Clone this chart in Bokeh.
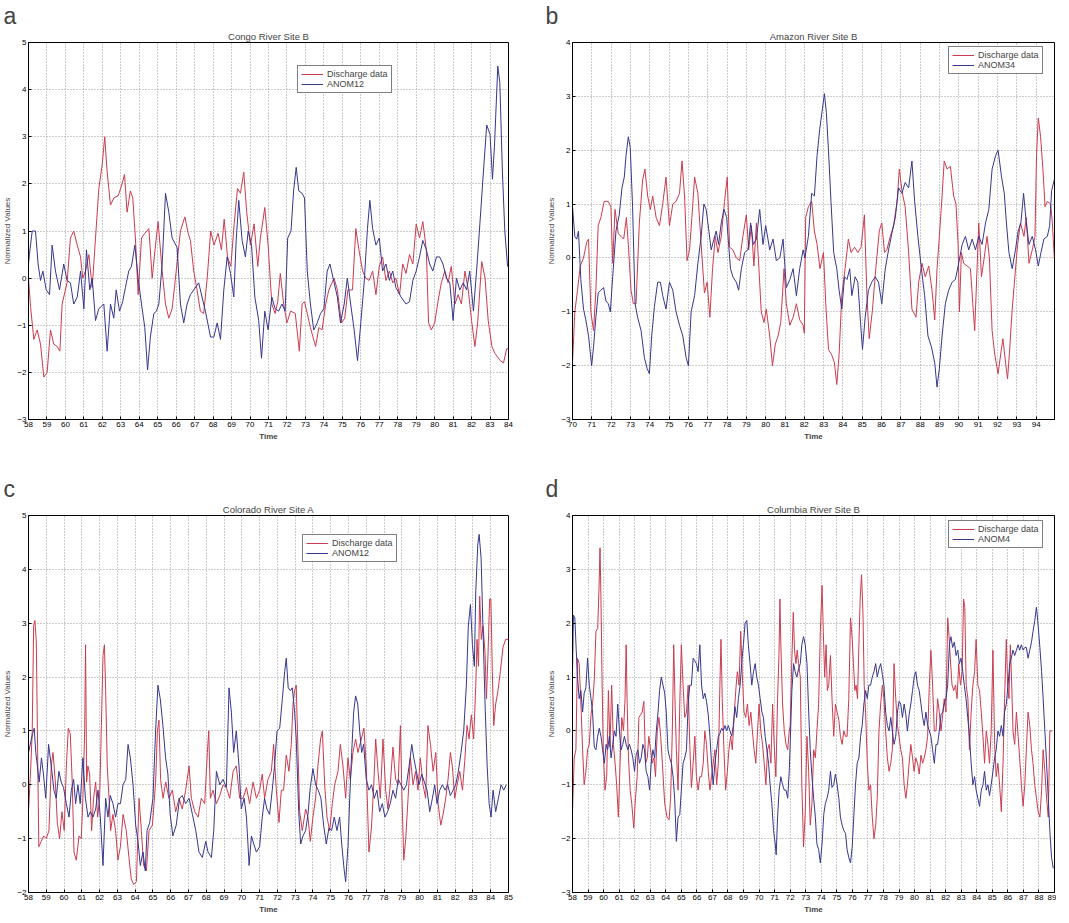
from bokeh.plotting import figure
from bokeh.layouts import column, row
from bokeh.models import FixedTicker, Legend, LegendItem, Range1d, Title
from bokeh.embed import file_html
from bokeh.resources import INLINE

# ---------------- data (year, normalized value) ----------------
congo_discharge = [(58.0,0.0),(58.11,-0.6),(58.29,-1.3),(58.47,-1.1),(58.65,-1.4),(58.83,-2.1),(59.01,-2.0),(59.19,-1.1),(59.37,-1.4),(59.55,-1.45),(59.70,-1.55),(59.82,-0.55),(60.09,-0.1),(60.27,0.85),(60.45,1.0),(60.64,0.7),(60.82,0.45),(60.94,0.0),(61.09,0.15),(61.27,0.5),(61.45,-0.2),(61.63,0.85),(61.81,1.9),(61.99,2.4),(62.13,3.0),(62.26,2.25),(62.44,1.55),(62.62,1.7),(62.86,1.75),(63.07,2.0),(63.20,2.2),(63.34,1.4),(63.52,1.85),(63.65,1.7),(63.79,0.85),(63.94,-0.35),(64.12,0.85),(64.30,0.95),(64.52,1.05),(64.70,0.0),(64.88,0.7),(65.02,1.2),(65.24,0.15),(65.42,-0.55),(65.60,-0.85),(65.78,-0.65),(66.00,0.15),(66.23,1.0),(66.47,1.3),(66.65,0.95),(66.77,0.8),(66.95,0.15),(67.13,-0.25),(67.31,-0.7),(67.49,-0.75),(67.68,0.0),(67.87,1.0),(68.05,0.7),(68.27,0.95),(68.45,0.6),(68.60,1.25),(68.78,0.45),(68.96,0.25),(69.14,1.15),(69.32,1.9),(69.48,1.8),(69.66,2.25),(69.82,1.4),(70.02,0.7),(70.22,1.15),(70.42,0.25),(70.56,0.85),(70.80,1.5),(70.98,0.7),(71.18,-0.55),(71.36,-0.75),(71.5,-0.5),(71.64,0.1),(71.82,-0.55),(72.0,-0.95),(72.2,-0.7),(72.45,-0.75),(72.67,-1.55),(72.82,-0.55),(72.95,-0.5),(73.1,-0.75),(73.27,-1.05),(73.55,-1.45),(73.73,-1.05),(73.9,-1.1),(74.1,-0.55),(74.27,-0.25),(74.55,0.0),(74.73,-0.25),(74.95,-0.95),(75.13,-0.85),(75.3,-0.25),(75.55,-0.25),(75.73,1.05),(75.9,0.6),(76.1,0.15),(76.27,0.0),(76.45,-0.05),(76.64,0.15),(76.82,-0.35),(77.0,0.25),(77.18,0.45),(77.36,-0.05),(77.55,0.15),(77.73,-0.1),(77.9,0.0),(78.1,-0.35),(78.27,0.3),(78.45,0.1),(78.64,0.5),(78.82,0.3),(79.0,1.15),(79.18,0.85),(79.36,1.2),(79.55,0.6),(79.67,-0.95),(79.82,-1.1),(80.0,-0.95),(80.18,-0.5),(80.36,-0.1),(80.55,0.15),(80.73,-0.1),(80.9,0.25),(81.1,-0.55),(81.27,-0.35),(81.45,-0.55),(81.64,0.15),(81.82,-0.25),(82.0,-0.9),(82.18,-1.45),(82.33,-0.95),(82.55,0.35),(82.73,0.0),(82.9,-0.9),(83.1,-1.45),(83.27,-1.6),(83.55,-1.75),(83.73,-1.8),(83.9,-1.5),(84.0,-1.5)]
congo_anom12 = [(58.0,0.3),(58.05,0.5),(58.2,1.0),(58.38,1.0),(58.52,0.3),(58.65,-0.05),(58.78,0.15),(58.96,-0.25),(59.14,-0.35),(59.28,0.7),(59.46,0.15),(59.68,-0.25),(59.91,0.3),(60.09,-0.05),(60.27,-0.1),(60.45,-0.55),(60.64,-0.4),(60.82,0.15),(61.0,-0.65),(61.14,0.6),(61.32,-0.25),(61.45,0.0),(61.63,-0.9),(61.81,-0.65),(62.08,-0.55),(62.26,-1.55),(62.44,-0.55),(62.62,-0.85),(62.75,-0.25),(62.93,-0.7),(63.1,-0.5),(63.25,-0.2),(63.43,0.15),(63.58,0.25),(63.76,0.7),(63.94,0.0),(64.12,-0.55),(64.3,-1.05),(64.45,-1.95),(64.6,-1.25),(64.79,-0.75),(64.93,-0.7),(65.06,-0.55),(65.24,0.3),(65.42,1.8),(65.6,1.4),(65.78,0.85),(66.05,0.65),(66.23,-0.55),(66.41,-0.95),(66.59,-0.55),(66.77,-0.35),(66.95,-0.25),(67.22,-0.1),(67.4,-0.4),(67.58,-0.7),(67.86,-1.25),(68.04,-1.25),(68.22,-0.95),(68.4,-1.3),(68.58,-0.25),(68.76,0.45),(68.94,0.1),(69.12,-0.4),(69.25,0.8),(69.39,1.65),(69.57,0.8),(69.75,0.45),(69.9,1.0),(70.08,0.7),(70.26,-0.4),(70.47,-0.9),(70.62,-1.7),(70.8,-0.7),(70.98,-1.1),(71.18,-0.4),(71.36,-0.65),(71.55,-0.7),(71.73,-0.55),(71.9,-0.7),(72.04,0.85),(72.22,1.0),(72.36,1.85),(72.5,2.35),(72.64,1.85),(72.82,1.8),(72.95,1.7),(73.1,0.15),(73.27,-0.55),(73.45,-1.1),(73.64,-0.95),(73.82,-0.75),(74.0,-0.65),(74.18,0.15),(74.33,0.3),(74.5,0.0),(74.73,-0.4),(74.9,-0.95),(75.1,-0.55),(75.27,0.0),(75.45,-0.55),(75.64,-1.1),(75.82,-1.75),(76.0,-0.95),(76.18,-0.1),(76.36,1.05),(76.49,1.65),(76.64,1.05),(76.82,0.7),(77.0,0.85),(77.18,0.15),(77.36,0.3),(77.55,-0.05),(77.73,0.15),(77.9,-0.2),(78.18,-0.4),(78.45,-0.55),(78.64,-0.5),(78.82,-0.05),(79.0,0.15),(79.18,0.45),(79.36,0.8),(79.55,0.6),(79.73,0.3),(79.9,0.15),(80.1,0.45),(80.27,0.45),(80.45,0.3),(80.64,0.0),(80.82,-0.1),(81.0,-0.9),(81.18,0.0),(81.36,-0.25),(81.55,-0.1),(81.73,-0.25),(81.9,0.15),(82.1,-0.7),(82.27,0.15),(82.45,1.15),(82.64,2.25),(82.82,3.25),(83.0,3.05),(83.13,2.1),(83.24,2.8),(83.42,4.5),(83.53,4.15),(83.67,2.25),(83.8,1.0),(83.95,0.25),(84.0,0.25)]

amazon_discharge = [(70.0,-1.95),(70.12,-1.0),(70.26,-0.6),(70.4,-0.15),(70.57,0.0),(70.74,0.3),(70.83,0.35),(70.95,-1.0),(71.09,-1.35),(71.21,-0.6),(71.33,0.6),(71.47,0.75),(71.64,1.05),(71.85,1.05),(71.99,0.95),(72.08,-0.1),(72.2,0.9),(72.37,0.45),(72.51,0.4),(72.65,0.35),(72.79,0.75),(72.89,0.25),(73.03,-0.6),(73.15,-0.85),(73.29,-0.85),(73.46,0.65),(73.63,1.45),(73.75,1.65),(73.89,1.15),(74.03,0.9),(74.15,1.15),(74.33,0.75),(74.5,0.6),(74.67,1.0),(74.84,1.5),(75.02,0.6),(75.19,1.0),(75.36,1.05),(75.54,1.2),(75.67,1.8),(75.8,1.15),(75.93,-0.05),(76.06,0.15),(76.18,0.75),(76.32,1.5),(76.49,1.2),(76.66,0.25),(76.83,-0.65),(76.97,-0.45),(77.11,-1.1),(77.25,-0.2),(77.39,0.4),(77.53,0.1),(77.7,0.4),(77.87,1.05),(78.01,1.5),(78.13,0.2),(78.3,0.15),(78.48,0.0),(78.65,-0.05),(78.82,0.4),(79.0,0.8),(79.12,0.15),(79.26,0.6),(79.39,-0.15),(79.52,0.65),(79.65,-0.2),(79.77,-1.0),(79.91,-1.2),(80.03,-0.95),(80.21,-1.45),(80.35,-2.0),(80.5,-1.6),(80.64,-1.45),(80.78,-1.2),(80.95,-0.2),(81.07,-0.85),(81.25,-1.25),(81.42,-1.1),(81.59,-0.85),(81.76,-1.15),(81.94,-1.25),(82.0,-1.4),(82.07,0.75),(82.21,0.95),(82.38,1.05),(82.52,0.5),(82.66,0.25),(82.81,-0.2),(82.99,0.1),(83.11,-0.85),(83.25,-1.7),(83.42,-1.8),(83.56,-1.95),(83.68,-2.35),(83.8,-1.8),(83.94,-0.7),(84.11,-0.2),(84.28,0.35),(84.42,0.1),(84.6,0.2),(84.77,0.1),(84.94,0.2),(85.11,0.8),(85.24,-0.7),(85.36,-1.5),(85.53,-0.95),(85.7,-0.2),(85.88,0.5),(86.01,0.65),(86.15,0.1),(86.27,0.15),(86.45,0.4),(86.62,0.6),(86.8,1.05),(86.92,1.65),(87.05,1.25),(87.22,0.95),(87.4,0.1),(87.57,-0.95),(87.78,-1.1),(87.92,-0.45),(88.09,-0.1),(88.26,-0.35),(88.44,-0.15),(88.61,-0.6),(88.75,-1.15),(88.87,-0.2),(88.99,0.4),(89.13,1.15),(89.24,1.8),(89.39,1.65),(89.56,1.7),(89.73,1.15),(89.85,1.0),(89.96,0.25),(90.03,-1.0),(90.13,0.1),(90.25,-0.1),(90.43,-0.15),(90.6,-0.2),(90.72,-0.85),(90.82,-1.35),(90.94,-0.2),(91.03,0.65),(91.17,-0.35),(91.31,0.0),(91.46,0.4),(91.58,0.0),(91.72,-1.35),(91.86,-1.8),(92.03,-2.15),(92.16,-1.8),(92.28,-1.5),(92.42,-1.95),(92.52,-2.25),(92.62,-1.75),(92.76,-0.95),(92.9,-0.35),(93.04,0.25),(93.19,0.65),(93.37,0.4),(93.49,0.75),(93.63,-0.1),(93.8,0.15),(93.94,0.4),(94.02,1.9),(94.11,2.6),(94.23,2.25),(94.35,1.65),(94.46,0.95),(94.58,1.05),(94.75,1.0),(94.84,0.65),(94.94,0.0)]
amazon_anom34 = [(70.0,0.95),(70.12,0.4),(70.22,0.35),(70.31,0.5),(70.43,-0.4),(70.57,-0.95),(70.69,-1.15),(70.83,-1.45),(70.99,-2.0),(71.09,-1.65),(71.21,-1.1),(71.33,-0.65),(71.47,-0.6),(71.61,-0.55),(71.73,-0.8),(71.85,-0.85),(71.96,-1.0),(72.08,-0.35),(72.25,0.5),(72.42,0.8),(72.56,1.3),(72.68,1.5),(72.77,1.9),(72.89,2.25),(72.99,2.05),(73.11,0.95),(73.24,-0.85),(73.37,-1.1),(73.55,-1.35),(73.72,-1.85),(73.86,-2.05),(73.98,-2.15),(74.1,-1.45),(74.24,-0.9),(74.41,-0.45),(74.55,-0.45),(74.67,-0.7),(74.84,-0.95),(75.02,-0.45),(75.19,-0.6),(75.36,-1.0),(75.54,-1.25),(75.71,-1.45),(75.88,-1.85),(76.0,-2.0),(76.14,-1.0),(76.32,-0.7),(76.49,-0.1),(76.66,0.4),(76.8,1.0),(76.92,0.9),(77.06,0.5),(77.18,0.15),(77.32,0.35),(77.44,0.5),(77.56,0.25),(77.7,0.65),(77.84,0.9),(77.98,0.75),(78.08,0.25),(78.18,-0.2),(78.3,-0.35),(78.48,-0.45),(78.6,-0.6),(78.74,-0.2),(78.91,0.1),(79.08,0.15),(79.22,0.65),(79.36,0.25),(79.52,0.35),(79.69,0.9),(79.86,0.25),(80.0,0.6),(80.21,0.15),(80.38,0.35),(80.55,-0.05),(80.73,0.0),(80.9,0.35),(81.07,-0.55),(81.25,-0.4),(81.42,-0.2),(81.59,-0.7),(81.76,-0.2),(81.94,0.15),(82.03,0.0),(82.21,0.4),(82.38,1.2),(82.52,1.15),(82.66,1.9),(82.8,2.4),(82.93,2.75),(83.04,3.05),(83.14,2.7),(83.25,2.0),(83.38,1.05),(83.52,0.1),(83.68,-0.2),(83.8,-0.6),(83.94,-0.95),(84.08,-0.35),(84.21,-0.4),(84.35,-0.2),(84.46,-0.7),(84.63,-0.35),(84.77,-0.45),(84.91,-1.2),(85.01,-1.7),(85.15,-1.1),(85.32,-0.6),(85.49,-0.45),(85.67,-0.35),(85.84,-0.45),(86.01,-0.85),(86.19,-0.2),(86.36,0.15),(86.53,0.45),(86.71,0.75),(86.88,1.3),(87.05,1.2),(87.22,1.4),(87.4,1.3),(87.57,1.8),(87.71,1.05),(87.88,0.4),(88.06,-0.2),(88.23,-0.7),(88.4,-1.45),(88.58,-1.65),(88.75,-1.95),(88.87,-2.4),(88.99,-2.05),(89.13,-1.45),(89.3,-0.85),(89.47,-0.6),(89.65,-0.45),(89.82,-0.4),(89.99,-0.1),(90.17,0.25),(90.34,0.4),(90.51,0.15),(90.69,0.35),(90.86,0.15),(91.03,0.4),(91.2,0.25),(91.38,0.65),(91.55,0.9),(91.72,1.65),(91.9,1.9),(92.03,2.0),(92.21,1.5),(92.35,1.2),(92.45,0.7),(92.59,0.1),(92.76,-0.2),(92.93,0.15),(93.07,0.5),(93.21,0.65),(93.35,1.2),(93.49,0.65),(93.63,0.25),(93.8,0.4),(93.97,0.15),(94.11,-0.15),(94.25,0.1),(94.4,0.35),(94.58,0.4),(94.7,0.6),(94.8,1.25),(94.94,1.45)]

colorado_discharge = [(58.0,-0.5),(58.13,0.35),(58.21,1.0),(58.29,2.95),(58.36,3.05),(58.44,2.65),(58.5,1.0),(58.58,-1.15),(58.72,-1.05),(58.85,-0.95),(59.0,-1.0),(59.15,-0.85),(59.28,0.35),(59.38,0.6),(59.51,0.05),(59.62,-0.7),(59.75,-1.0),(59.88,-0.5),(60.01,-0.85),(60.13,0.35),(60.24,1.05),(60.35,0.95),(60.46,0.05),(60.56,-1.25),(60.69,-1.4),(60.84,-0.95),(60.97,-1.0),(61.06,-0.25),(61.16,1.0),(61.21,2.6),(61.27,0.05),(61.34,0.35),(61.44,0.2),(61.55,-0.85),(61.66,-0.25),(61.78,0.05),(61.89,-0.6),(62.0,-0.25),(62.1,1.1),(62.19,2.4),(62.27,2.6),(62.34,1.75),(62.43,0.35),(62.53,-0.25),(62.62,-0.85),(62.75,-0.55),(62.9,-0.85),(63.03,-1.4),(63.17,-1.15),(63.32,-0.55),(63.5,-0.85),(63.65,-1.35),(63.78,-1.75),(63.92,-1.85),(64.07,-1.8),(64.22,-0.25),(64.35,-0.85),(64.48,-1.5),(64.63,-1.6),(64.78,-0.85),(64.97,-0.75),(65.15,0.05),(65.25,1.0),(65.34,1.2),(65.43,0.1),(65.57,-0.25),(65.72,0.05),(65.9,-0.25),(66.09,-0.1),(66.28,-0.5),(66.47,-0.25),(66.65,-0.45),(66.84,-0.1),(67.03,0.35),(67.16,-0.25),(67.35,-0.5),(67.54,-0.6),(67.72,-0.25),(67.91,-0.35),(68.06,0.6),(68.14,1.0),(68.23,-0.25),(68.38,-0.1),(68.57,-0.35),(68.76,-0.2),(68.94,0.0),(69.13,-0.05),(69.32,-0.25),(69.51,0.25),(69.69,0.35),(69.88,-0.25),(70.07,-0.25),(70.26,-0.05),(70.44,-0.35),(70.63,0.05),(70.82,-0.25),(71.0,-0.1),(71.15,0.2),(71.28,-0.25),(71.47,0.1),(71.66,0.25),(71.79,0.75),(71.94,-0.1),(72.09,-0.7),(72.22,-0.1),(72.35,-0.1),(72.5,0.55),(72.65,0.25),(72.78,0.75),(72.88,1.5),(72.97,1.75),(73.06,1.85),(73.16,0.6),(73.25,-0.5),(73.4,-0.85),(73.59,-0.45),(73.72,-0.6),(73.85,-1.05),(74.0,-0.6),(74.15,-0.25),(74.28,0.35),(74.43,0.85),(74.53,1.0),(74.66,0.0),(74.79,-0.6),(74.94,-0.85),(75.09,-0.35),(75.22,0.0),(75.41,0.25),(75.54,0.75),(75.69,0.35),(75.84,-0.25),(75.97,0.5),(76.1,0.1),(76.25,0.6),(76.4,0.85),(76.53,0.6),(76.72,0.85),(76.87,1.05),(77.0,0.35),(77.15,-1.25),(77.29,-0.8),(77.42,0.0),(77.53,0.85),(77.66,0.25),(77.79,-0.25),(77.94,0.85),(78.09,-0.1),(78.22,-0.45),(78.35,0.0),(78.5,0.7),(78.65,0.1),(78.79,0.0),(78.92,1.1),(79.01,-0.25),(79.11,-1.4),(79.22,-1.0),(79.35,-0.25),(79.48,0.5),(79.63,0.0),(79.78,0.25),(79.91,-0.1),(80.04,0.5),(80.19,0.0),(80.34,-0.25),(80.47,1.1),(80.61,0.75),(80.76,0.25),(80.91,0.6),(81.04,-0.35),(81.19,-0.75),(81.32,-0.55),(81.47,-0.25),(81.6,0.1),(81.73,0.6),(81.84,0.35),(81.98,-0.25),(82.11,0.0),(82.26,0.25),(82.41,-0.1),(82.54,0.45),(82.67,1.1),(82.78,0.85),(82.91,1.3),(83.04,0.85),(83.16,1.85),(83.23,2.7),(83.31,2.2),(83.38,3.5),(83.47,2.7),(83.57,2.95),(83.68,2.45),(83.76,1.6),(83.85,2.45),(83.94,3.45),(84.01,3.45),(84.09,2.1),(84.17,1.1),(84.28,1.5),(84.41,1.75),(84.54,2.1),(84.69,2.55),(84.84,2.7),(85.0,2.7)]
colorado_anom12 = [(58.0,0.6),(58.1,0.75),(58.23,0.95),(58.32,1.05),(58.41,0.6),(58.5,0.35),(58.6,0.05),(58.73,0.5),(58.84,0.2),(58.97,-0.25),(59.13,0.75),(59.28,0.35),(59.43,-0.1),(59.56,-0.25),(59.71,0.25),(59.84,0.05),(59.97,-0.05),(60.13,-0.35),(60.28,-0.6),(60.41,-0.1),(60.54,0.1),(60.65,-0.35),(60.78,0.0),(60.91,-0.35),(61.06,0.5),(61.2,-0.25),(61.35,-0.6),(61.48,-0.5),(61.63,-0.6),(61.78,-0.45),(61.91,-0.1),(62.04,-0.6),(62.19,-1.5),(62.34,-0.25),(62.47,-0.6),(62.6,-0.2),(62.75,-0.35),(62.9,-0.6),(63.03,-0.35),(63.17,-0.35),(63.32,0.0),(63.47,0.1),(63.6,0.75),(63.73,0.5),(63.88,0.0),(64.03,-0.75),(64.16,-1.05),(64.29,-1.5),(64.44,-1.25),(64.57,-1.6),(64.67,-0.85),(64.82,-0.7),(65.0,-0.25),(65.15,1.0),(65.28,1.85),(65.41,1.6),(65.56,1.1),(65.71,0.5),(65.84,0.2),(65.97,-0.55),(66.12,-0.95),(66.31,-0.75),(66.5,-0.25),(66.65,-0.2),(66.84,-0.35),(67.03,-0.25),(67.22,-0.55),(67.41,-0.85),(67.59,-1.25),(67.78,-1.35),(67.97,-1.05),(68.1,-1.25),(68.29,-1.35),(68.42,-0.85),(68.57,0.25),(68.76,0.0),(68.94,0.1),(69.13,-0.05),(69.28,1.8),(69.41,1.35),(69.54,0.6),(69.69,1.0),(69.84,0.35),(69.97,-0.45),(70.13,-0.25),(70.26,-0.6),(70.41,-1.5),(70.54,-0.95),(70.67,-1.1),(70.82,-1.25),(71.0,-1.15),(71.15,-0.6),(71.28,-0.25),(71.41,-0.45),(71.56,-0.55),(71.71,-0.1),(71.84,0.35),(71.98,1.0),(72.13,1.05),(72.28,1.6),(72.41,2.1),(72.5,2.35),(72.61,1.8),(72.73,1.75),(72.84,1.8),(72.97,1.35),(73.06,0.85),(73.2,-0.5),(73.31,-1.1),(73.44,-0.95),(73.59,-0.85),(73.72,-0.55),(73.85,-0.05),(74.0,0.3),(74.15,0.0),(74.3,-0.1),(74.45,-0.25),(74.6,-0.75),(74.75,-1.1),(74.9,-0.8),(75.05,-0.85),(75.2,-0.6),(75.35,-0.85),(75.5,-0.6),(75.62,-1.1),(75.73,-1.5),(75.84,-1.8),(75.97,-1.15),(76.07,-0.25),(76.18,0.6),(76.29,1.35),(76.4,1.65),(76.52,1.5),(76.63,1.0),(76.74,0.6),(76.85,0.75),(77.0,0.1),(77.15,-0.1),(77.3,0.0),(77.45,-0.25),(77.6,-0.1),(77.75,-0.5),(77.9,-0.35),(78.05,-0.6),(78.2,-0.5),(78.35,-0.35),(78.5,-0.1),(78.65,-0.25),(78.8,0.1),(78.95,0.0),(79.11,-0.1),(79.26,0.0),(79.41,0.35),(79.56,0.75),(79.67,0.5),(79.82,0.25),(79.97,0.0),(80.12,0.2),(80.27,0.05),(80.42,-0.1),(80.57,-0.5),(80.72,-0.25),(80.85,0.0),(80.98,-0.35),(81.13,-0.1),(81.28,0.0),(81.43,-0.1),(81.58,0.0),(81.73,-0.2),(81.88,-0.1),(82.03,0.0),(82.18,0.25),(82.33,0.6),(82.48,1.0),(82.63,1.85),(82.74,2.95),(82.86,3.35),(82.97,2.6),(83.08,2.2),(83.16,3.6),(83.27,4.45),(83.35,4.65),(83.46,4.2),(83.57,2.85),(83.68,1.5),(83.8,0.35),(83.91,-0.35),(84.02,-0.6),(84.13,-0.1),(84.28,-0.5),(84.43,-0.25),(84.58,0.0),(84.73,-0.1),(84.88,0.0)]

columbia_discharge = [(58.0,-1.5),(58.11,-0.5),(58.22,-0.35),(58.32,1.35),(58.43,1.25),(58.54,0.5),(58.65,-0.35),(58.75,-1.0),(58.86,-0.75),(58.97,-0.35),(59.08,-0.25),(59.19,0.3),(59.29,0.5),(59.4,0.95),(59.51,1.85),(59.62,1.9),(59.7,2.6),(59.77,3.4),(59.83,2.45),(59.9,0.95),(59.98,-0.35),(60.09,-1.1),(60.2,-0.85),(60.31,0.75),(60.41,-0.3),(60.52,0.85),(60.63,-0.25),(60.74,-0.6),(60.84,-1.0),(60.95,-1.6),(61.06,-0.6),(61.17,0.25),(61.28,0.0),(61.38,0.6),(61.45,1.6),(61.51,0.6),(61.6,-0.5),(61.71,-1.1),(61.81,-1.35),(61.94,-1.8),(62.05,-1.25),(62.16,-0.85),(62.27,0.25),(62.38,0.3),(62.48,0.35),(62.59,0.55),(62.7,-0.6),(62.81,-0.5),(62.91,-0.1),(63.02,-0.35),(63.13,-0.6),(63.24,-0.5),(63.34,-0.85),(63.45,0.0),(63.56,0.25),(63.67,-0.1),(63.78,-0.6),(63.93,-1.35),(64.08,-1.6),(64.21,-1.65),(64.31,-1.25),(64.42,0.0),(64.51,1.6),(64.59,0.6),(64.68,-0.35),(64.79,-1.1),(64.9,0.5),(65.0,1.6),(65.11,0.85),(65.22,0.25),(65.33,0.35),(65.44,0.85),(65.54,-0.25),(65.65,-1.05),(65.76,-0.6),(65.87,-0.1),(65.97,-0.85),(66.08,-1.1),(66.19,-0.85),(66.3,-0.85),(66.41,-0.6),(66.51,0.0),(66.62,-0.25),(66.73,-0.75),(66.84,-1.1),(66.94,-0.85),(67.05,-0.6),(67.16,-0.35),(67.27,-1.0),(67.38,-0.6),(67.48,0.85),(67.55,1.7),(67.63,0.6),(67.74,-0.35),(67.85,-1.1),(67.96,-0.75),(68.06,-0.35),(68.17,-0.1),(68.28,-0.35),(68.39,0.25),(68.5,0.75),(68.6,1.1),(68.71,0.85),(68.82,1.85),(68.93,1.0),(69.03,0.35),(69.14,0.25),(69.25,0.5),(69.36,0.1),(69.47,0.35),(69.57,0.0),(69.68,-0.35),(69.79,-0.6),(69.9,0.0),(70.0,0.5),(70.11,0.0),(70.22,-0.25),(70.33,-0.6),(70.44,-1.0),(70.54,-0.35),(70.65,-0.25),(70.76,-0.6),(70.87,0.5),(70.97,-0.25),(71.08,-0.85),(71.19,0.6),(71.28,1.4),(71.34,2.45),(71.4,1.6),(71.51,0.5),(71.62,0.0),(71.73,-0.25),(71.84,-0.35),(71.94,0.0),(72.0,0.1),(72.11,1.35),(72.2,2.2),(72.28,1.5),(72.37,1.25),(72.45,1.5),(72.54,1.25),(72.65,1.0),(72.75,-1.0),(72.86,-2.15),(72.97,-1.5),(73.08,-0.1),(73.19,-0.75),(73.29,-1.75),(73.4,-1.35),(73.51,-0.35),(73.62,-0.5),(73.72,0.0),(73.83,0.5),(73.94,1.85),(74.05,2.7),(74.13,1.85),(74.22,1.0),(74.31,1.6),(74.39,0.75),(74.48,0.85),(74.59,1.4),(74.69,0.6),(74.8,-0.1),(74.91,0.5),(75.02,0.35),(75.13,0.2),(75.23,-0.1),(75.34,-0.25),(75.45,0.0),(75.56,-0.1),(75.66,-0.1),(75.77,0.6),(75.88,2.1),(75.99,1.7),(76.07,1.25),(76.16,0.75),(76.24,0.85),(76.33,0.6),(76.42,1.6),(76.5,2.45),(76.59,2.9),(76.68,2.2),(76.76,0.85),(76.85,0.35),(76.96,-0.6),(77.06,-1.1),(77.17,-1.0),(77.28,-1.6),(77.39,-2.0),(77.5,-1.75),(77.6,-1.25),(77.71,0.0),(77.82,0.5),(77.93,0.85),(78.03,0.6),(78.14,0.0),(78.25,-0.5),(78.36,-0.75),(78.47,-0.6),(78.57,-0.35),(78.68,1.25),(78.79,0.6),(78.9,0.1),(79.0,-0.1),(79.11,-0.35),(79.22,-0.5),(79.33,-1.0),(79.44,-1.25),(79.54,-1.0),(79.65,-0.6),(79.76,-0.25),(79.87,-0.5),(79.97,-0.75),(80.08,-0.5),(80.19,-0.6),(80.3,-0.8),(80.41,-0.45),(80.52,-0.6),(80.62,-0.5),(80.73,-0.35),(80.84,-0.1),(80.95,0.85),(81.05,1.5),(81.16,0.85),(81.27,0.0),(81.38,0.0),(81.48,0.6),(81.59,0.35),(81.7,0.0),(81.81,0.3),(81.91,0.6),(82.02,0.35),(82.13,2.1),(82.22,1.75),(82.3,1.35),(82.41,0.85),(82.52,0.75),(82.63,0.85),(82.73,0.6),(82.84,1.25),(82.95,0.85),(83.06,1.1),(83.15,2.45),(83.23,2.3),(83.32,0.85),(83.43,0.6),(83.53,-0.35),(83.64,0.35),(83.75,0.85),(83.86,1.1),(83.96,1.7),(84.07,0.85),(84.18,0.75),(84.29,0.35),(84.4,-0.1),(84.5,-0.6),(84.61,0.0),(84.72,-0.25),(84.82,-0.6),(84.93,0.0),(85.04,1.5),(85.15,-0.25),(85.25,-0.85),(85.36,-0.6),(85.47,-1.0),(85.58,-1.5),(85.69,-0.6),(85.79,0.6),(85.9,1.7),(85.99,0.85),(86.07,0.6),(86.16,1.6),(86.25,0.85),(86.33,0.0),(86.44,-0.25),(86.55,0.35),(86.66,-0.1),(86.76,-0.5),(86.87,-1.0),(86.98,-1.4),(87.09,-1.0),(87.19,-0.35),(87.3,0.35),(87.41,0.1),(87.52,-0.35),(87.62,-0.6),(87.73,-1.0),(87.84,-1.25),(87.95,-1.5),(88.06,-1.6),(88.17,-1.1),(88.27,-0.35),(88.38,-0.75),(88.49,-1.25),(88.6,-1.6),(88.7,0.0),(88.85,0.0)]
columbia_anom4 = [(58.0,1.1),(58.06,2.15),(58.15,2.1),(58.24,1.5),(58.32,1.0),(58.43,0.6),(58.54,0.75),(58.65,0.35),(58.75,0.7),(58.86,0.8),(58.97,1.35),(59.08,0.85),(59.19,0.6),(59.29,0.35),(59.4,-0.3),(59.51,-0.35),(59.62,-0.1),(59.72,0.05),(59.83,-0.1),(59.94,-0.35),(60.05,-0.6),(60.16,-0.25),(60.26,-0.35),(60.37,-0.1),(60.48,-0.5),(60.59,-0.25),(60.69,0.0),(60.8,-0.1),(60.91,0.5),(61.02,0.0),(61.12,-0.35),(61.23,-0.25),(61.34,-0.1),(61.45,-0.25),(61.56,-0.35),(61.66,-0.25),(61.77,-0.35),(61.88,-0.5),(61.99,-0.75),(62.09,-0.45),(62.2,-0.35),(62.31,-0.6),(62.42,-0.5),(62.53,-0.25),(62.63,-0.35),(62.74,-0.75),(62.85,-0.85),(62.96,-1.1),(63.06,-0.6),(63.17,-0.35),(63.28,-0.5),(63.39,0.0),(63.5,0.35),(63.6,0.75),(63.71,1.0),(63.82,0.85),(63.93,0.7),(64.03,0.35),(64.14,-0.35),(64.25,-0.5),(64.36,-0.6),(64.47,-0.85),(64.57,-1.25),(64.68,-2.05),(64.79,-1.6),(64.9,-1.55),(65.0,-1.1),(65.11,-0.6),(65.22,-0.5),(65.33,-0.35),(65.44,0.5),(65.54,0.85),(65.65,0.85),(65.76,1.35),(65.87,1.3),(65.97,1.25),(66.08,1.1),(66.19,1.6),(66.3,0.85),(66.41,0.6),(66.51,0.7),(66.62,0.55),(66.73,0.3),(66.84,-0.1),(66.94,-0.6),(67.05,-1.0),(67.16,-0.6),(67.27,-0.35),(67.38,-0.1),(67.48,-0.05),(67.59,0.05),(67.7,0.0),(67.81,0.1),(67.91,0.0),(68.02,0.1),(68.13,0.0),(68.24,-0.1),(68.34,0.1),(68.45,0.45),(68.56,0.25),(68.67,0.6),(68.78,0.85),(68.88,1.25),(68.99,1.6),(69.1,2.0),(69.21,2.05),(69.31,1.6),(69.42,1.25),(69.53,0.85),(69.64,1.1),(69.75,1.25),(69.85,1.0),(69.96,0.85),(70.07,0.6),(70.18,0.35),(70.28,0.25),(70.39,-0.1),(70.5,-0.35),(70.61,-0.6),(70.71,-1.0),(70.82,-1.35),(70.93,-1.85),(71.04,-2.1),(71.1,-2.3),(71.19,-1.6),(71.29,-1.1),(71.4,-0.85),(71.51,-1.0),(71.62,-1.1),(71.73,-1.1),(71.84,-1.25),(71.94,-0.75),(72.0,-0.25),(72.11,0.75),(72.22,1.25),(72.32,1.1),(72.43,1.0),(72.54,1.15),(72.65,1.25),(72.75,1.6),(72.86,1.75),(72.97,1.6),(73.08,1.25),(73.19,0.35),(73.29,-0.35),(73.4,-0.85),(73.51,-1.25),(73.62,-1.6),(73.72,-2.1),(73.83,-2.2),(73.94,-2.45),(74.05,-2.1),(74.16,-1.55),(74.26,-1.35),(74.37,-1.25),(74.48,-1.1),(74.59,-0.75),(74.69,-1.05),(74.8,-1.0),(74.91,-0.8),(75.02,-1.0),(75.13,-1.25),(75.23,-1.6),(75.34,-1.75),(75.45,-1.85),(75.56,-1.9),(75.66,-2.2),(75.77,-2.35),(75.88,-2.45),(75.99,-2.15),(76.09,-1.6),(76.2,-1.0),(76.31,-0.6),(76.42,-0.5),(76.53,-0.1),(76.63,0.1),(76.74,0.5),(76.85,0.75),(76.96,0.6),(77.06,0.85),(77.17,0.85),(77.28,1.0),(77.39,1.1),(77.5,1.25),(77.6,1.0),(77.71,1.15),(77.82,1.25),(77.93,1.05),(78.03,0.85),(78.14,0.35),(78.25,0.1),(78.36,0.0),(78.47,0.25),(78.57,0.0),(78.68,-0.25),(78.79,-0.1),(78.9,0.35),(79.0,0.55),(79.11,0.5),(79.22,0.25),(79.33,0.5),(79.44,0.3),(79.54,0.0),(79.65,0.3),(79.76,0.5),(79.87,0.75),(79.97,1.0),(80.08,1.1),(80.19,0.85),(80.3,0.75),(80.41,0.5),(80.52,0.25),(80.62,0.1),(80.73,0.35),(80.84,0.1),(80.95,0.0),(81.05,-0.1),(81.16,-0.35),(81.27,-0.6),(81.38,-0.25),(81.48,-0.25),(81.59,0.0),(81.7,0.3),(81.81,0.35),(81.91,0.5),(82.02,0.6),(82.13,0.85),(82.24,1.6),(82.34,1.75),(82.45,1.55),(82.56,1.65),(82.67,1.4),(82.78,1.5),(82.88,1.25),(82.99,1.35),(83.1,1.1),(83.2,0.85),(83.31,0.6),(83.42,0.25),(83.53,-0.1),(83.64,-0.6),(83.75,-1.0),(83.86,-0.85),(83.96,-1.1),(84.07,-1.25),(84.18,-1.4),(84.29,-1.1),(84.4,-1.0),(84.5,-0.75),(84.61,-1.1),(84.72,-1.0),(84.82,-1.2),(84.93,-1.0),(85.04,-0.75),(85.15,-0.5),(85.25,-0.35),(85.36,0.0),(85.47,-0.1),(85.58,0.1),(85.69,-0.1),(85.79,0.35),(85.9,0.5),(86.01,0.85),(86.12,1.25),(86.22,1.35),(86.33,1.5),(86.44,1.4),(86.55,1.5),(86.66,1.6),(86.76,1.5),(86.87,1.6),(86.98,1.5),(87.09,1.55),(87.19,1.55),(87.3,1.35),(87.41,1.5),(87.52,1.65),(87.62,1.85),(87.73,2.05),(87.84,2.3),(87.95,1.95),(88.06,1.55),(88.17,1.1),(88.27,0.6),(88.38,0.0),(88.49,-0.6),(88.6,-1.25),(88.7,-1.85),(88.81,-2.35),(88.92,-2.55)]

# ---------------- styling ----------------
RED = "#cc3b4f"
BLUE = "#36368f"
FONT = "Liberation Sans"


def panel(letter, letter_offset, title, xlim, ylim, xticks, discharge, anom, anom_name,
          legend_xy, border, frame_w, frame_h):
    left, right, top, bottom = border
    p = figure(frame_width=frame_w, frame_height=frame_h, title=None,
               x_range=Range1d(*xlim), y_range=Range1d(*ylim),
               output_backend="svg", toolbar_location=None,
               min_border_left=left, min_border_right=right,
               min_border_top=top, min_border_bottom=bottom)
    # river title (closest to the frame) and the panel letter above it
    p.add_layout(Title(text=title, align="center", text_font=FONT, text_font_size="9.5px",
                       text_font_style="normal", standoff=1), "above")
    p.add_layout(Title(text=letter, align="left", offset=letter_offset, text_font=FONT,
                       text_font_size="23px", text_font_style="normal", standoff=0), "above")

    t1, v1 = zip(*discharge)
    t2, v2 = zip(*anom)
    r1 = p.line(list(t1), list(v1), line_color=RED, line_width=1)
    r2 = p.line(list(t2), list(v2), line_color=BLUE, line_width=1)

    yt = list(range(ylim[0], ylim[1] + 1))
    p.xaxis.ticker = FixedTicker(ticks=xticks)
    p.yaxis.ticker = FixedTicker(ticks=yt)
    p.xgrid.ticker = FixedTicker(ticks=xticks)
    p.ygrid.ticker = FixedTicker(ticks=yt)
    for ax in (p.xaxis[0], p.yaxis[0]):
        ax.major_label_text_font = FONT
        ax.major_label_text_font_size = "8px"
        ax.major_label_text_color = "black"
        ax.major_tick_in = 3
        ax.major_tick_out = 0
        ax.minor_tick_line_color = None
        ax.axis_line_color = "black"
        ax.major_tick_line_color = "black"
        ax.major_label_standoff = 2
        ax.axis_label_text_font = FONT
        ax.axis_label_text_font_size = "8px"
        ax.axis_label_standoff = 2
    p.xaxis.axis_label = "Time"
    p.xaxis.axis_label_text_font_style = "bold"
    p.yaxis.axis_label = "Normalized Values"
    p.yaxis.axis_label_text_font_style = "normal"
    for g in (p.xgrid[0], p.ygrid[0]):
        g.grid_line_color = "#9a9a9a"
        g.grid_line_dash = "1 2"
        g.grid_line_width = 1
    p.outline_line_color = "black"
    p.outline_line_alpha = 1
    p.outline_line_width = 1
    p.background_fill_color = "white"
    p.border_fill_color = "white"

    legend = Legend(items=[LegendItem(label="Discharge data", renderers=[r1]),
                           LegendItem(label=anom_name, renderers=[r2])],
                    location=legend_xy)
    legend.label_text_font = FONT
    legend.label_text_font_size = "9px"
    legend.glyph_width = 22
    legend.glyph_height = 10
    legend.label_height = 10
    legend.label_standoff = 4
    legend.padding = 3
    legend.spacing = 0
    legend.margin = 0
    legend.border_line_color = "black"
    legend.border_line_width = 1
    legend.background_fill_alpha = 1
    p.add_layout(legend)
    return p


pa = panel("a", -25, "Congo River Site B", (58, 84), (-3, 5), list(range(58, 85)),
           congo_discharge, congo_anom12, "ANOM12", (269, 326), (25, 34, 36, 54), 480, 377)
pb = panel("b", -27, "Amazon River Site B", (70, 94.95), (-3, 4), list(range(70, 95)),
           amazon_discharge, amazon_anom34, "ANOM34", (376, 345), (30, 2, 36, 54), 482, 377)
pc = panel("c", -25, "Colorado River Site A", (58, 85), (-2, 5), list(range(58, 86)),
           colorado_discharge, colorado_anom12, "ANOM12", (274, 330), (25, 34, 40, 22), 480, 377)
pd_ = panel("d", -27, "Columbia River Site B", (58, 89), (-3, 4), list(range(58, 90)),
            columbia_discharge, columbia_anom4, "ANOM4", (376, 344), (30, 2, 40, 22), 482, 377)

layout = column(row(pa, pb), row(pc, pd_))
open("out.html", "w").write(file_html(layout, INLINE))
